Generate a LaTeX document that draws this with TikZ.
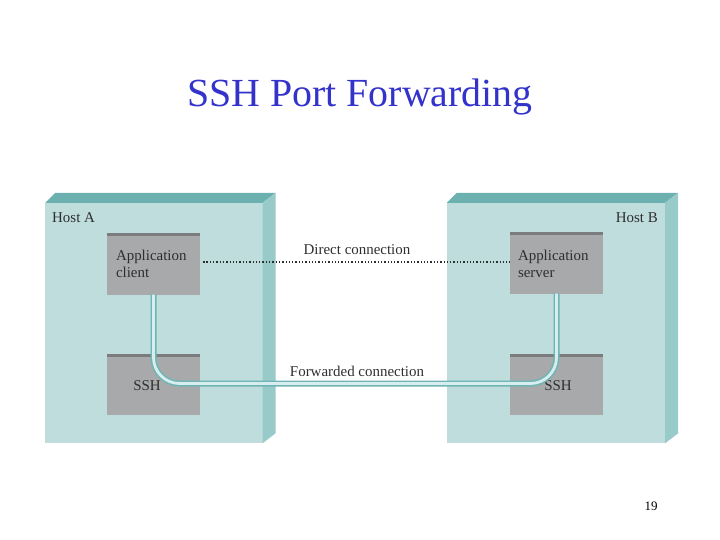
\documentclass[tikz,border=0pt]{standalone}
\usepackage{fontspec}
\setmainfont{Liberation Serif}
\usetikzlibrary{calc}
\definecolor{hostfront}{HTML}{BFDDDD}
\definecolor{hosttop}{HTML}{6DB0B0}
\definecolor{hostside}{HTML}{99CACA}
\definecolor{boxfill}{HTML}{A8A9AB}
\definecolor{boxtop}{HTML}{7B7C7E}
\definecolor{pipeedge}{HTML}{6FB5B5}
\definecolor{pipefill}{HTML}{D8EDED}
\definecolor{titleblue}{HTML}{3333CC}
\definecolor{labeltext}{HTML}{2E2E2E}
\tikzset{
   hostface/.style={fill=hostfront, inner sep=0pt},
   appbox/.style={fill=boxfill, inner sep=0pt,
      minimum width=93bp, minimum height=61bp,
      path picture={\fill[boxtop] (path picture bounding box.north west)
         rectangle ([yshift=-3bp]path picture bounding box.north east);}},
   boxlabel/.style={text=labeltext, inner sep=0pt,
      font=\fontsize{15}{16.5}\selectfont},
   pipe/.style={draw=pipeedge, line width=1.6bp, double=pipefill,
      double distance=2.8bp, rounded corners=26bp},
   direct/.style={draw=labeltext, line width=1.3bp, dotted},
}
\begin{document}
\begin{tikzpicture}[x=1bp, y=-1bp]
\useasboundingbox[fill=white] (0,0) rectangle (720,540);
% title
\node[text=titleblue, font=\fontsize{40}{44}\selectfont] (title) at (360,97) {SSH Port Forwarding};
% host A
\node[hostface, minimum width=217bp, minimum height=240bp] (hostA) at (154,323) {};
\fill[hosttop] (hostA.north west) -- ++(10,-10) -- ([shift={(13,-10)}]hostA.north east)
   -- (hostA.north east) -- cycle;
\fill[hostside] (hostA.north east) -- ++(13,-10) -- ([shift={(13,-10)}]hostA.south east)
   -- (hostA.south east) -- cycle;
% host B
\node[hostface, minimum width=218bp, minimum height=240bp] (hostB) at (556,323) {};
\fill[hosttop] (hostB.north west) -- ++(10,-10) -- ([shift={(13,-10)}]hostB.north east)
   -- (hostB.north east) -- cycle;
\fill[hostside] (hostB.north east) -- ++(13,-10) -- ([shift={(13,-10)}]hostB.south east)
   -- (hostB.south east) -- cycle;
\node[boxlabel, anchor=west] (hostAlabel) at (52,218) {Host A};
\node[boxlabel, anchor=east] (hostBlabel) at (658,218) {Host B};
% application boxes
\node[appbox] (client) at (153.5,264) {};
\node[appbox] (server) at (556.5,263) {};
\node[appbox] (sshA) at (153.5,384) {};
\node[appbox] (sshB) at (556.5,384) {};
\node[boxlabel, anchor=north west, align=left] (clientlabel)
   at ([shift={(9,17)}]client.north west) {Application\\client};
\node[boxlabel, anchor=north west, align=left] (serverlabel)
   at ([shift={(8,18)}]server.north west) {Application\\server};
\node[boxlabel] (sshAlabel) at (147,386) {SSH};
\node[boxlabel] (sshBlabel) at (558,386) {SSH};
% connections
\draw[direct] (client.east) ++(3,-2) coordinate (dstart) -- (dstart -| server.west);
\node[boxlabel] (directlabel) at (357,250) {Direct connection};
\coordinate (fwdmid) at (357,383.5);
\draw[pipe] (client.south) |- (fwdmid) -| (server.south);
\node[boxlabel] (fwdlabel) at (357,371) {Forwarded connection};
% page number
\node[font=\fontsize{13}{15}\selectfont] (page) at (651,506) {19};
\end{tikzpicture}
\end{document}
